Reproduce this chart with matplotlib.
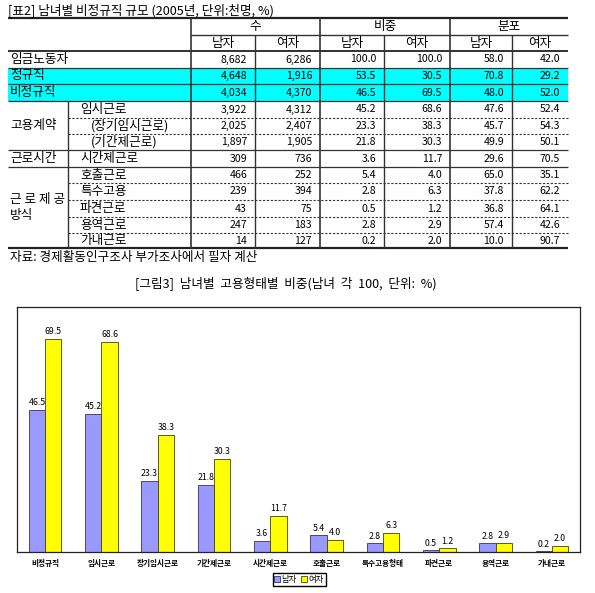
import numpy as np
import matplotlib
matplotlib.use("Agg")
import matplotlib.pyplot as plt

plt.rcParams['font.family'] = ['Noto Sans CJK KR', 'DejaVu Sans']

# ---- table data
row_labels = ['임금노동자', '정규직', '비정규직', '임시근로', '(장기임시근로)', '(기간제근로)',
              '시간제근로', '호출근로', '특수고용', '파견근로', '용역근로', '가내근로']
num_m = [8682, 4648, 4034, 3922, 2025, 1897, 309, 466, 239, 43, 247, 14]
num_f = [6286, 1916, 4370, 4312, 2407, 1905, 736, 252, 394, 75, 183, 127]
share_m = [100.0, 53.5, 46.5, 45.2, 23.3, 21.8, 3.6, 5.4, 2.8, 0.5, 2.8, 0.2]
share_f = [100.0, 30.5, 69.5, 68.6, 38.3, 30.3, 11.7, 4.0, 6.3, 1.2, 2.9, 2.0]
dist_m = [58.0, 70.8, 48.0, 47.6, 45.7, 49.9, 29.6, 65.0, 37.8, 36.8, 57.4, 10.0]
dist_f = [42.0, 29.2, 52.0, 52.4, 54.3, 50.1, 70.5, 35.1, 62.2, 64.1, 42.6, 90.7]
group_heads = ['수', '비중', '분포']
sex_heads = ['남자', '여자']

# ---- chart data
categories = ['비정규직', '임시근로', '장기임시근로', '기간제근로', '시간제근로',
              '호출근로', '특수고용형태', '파견근로', '용역근로', '가내근로']
men = [46.5, 45.2, 23.3, 21.8, 3.6, 5.4, 2.8, 0.5, 2.8, 0.2]
women = [69.5, 68.6, 38.3, 30.3, 11.7, 4.0, 6.3, 1.2, 2.9, 2.0]

W, H = 595, 593
fig = plt.figure(figsize=(W / 100, H / 100), dpi=100)

# table drawn on a full-figure axes in pixel units
tab = fig.add_axes([0, 0, 1, 1])
tab.set_xlim(0, W)
tab.set_ylim(H, 0)
tab.axis('off')

fs = 9.1  # korean text size
x0, x1 = 8, 568
col_edges = [191, 255, 320, 384, 450, 512, 568]
row_edges = [51, 68, 84, 101, 118, 134, 150, 167, 183, 200, 217, 233, 248]
lc = '#333333'

tab.text(8, 11, '[표2] 남녀별 비정규직 규모 (2005년, 단위:천명, %)', fontsize=fs,
         va='center', ha='left')

# cyan rows
for i in (1, 2):
    tab.fill_between([x0, x1], row_edges[i], row_edges[i + 1], color='#00FFFF', lw=0)

# horizontal lines
tab.hlines(18, x0, x1, color='#222222', lw=1.6)
tab.hlines(35, col_edges[0], x1, color=lc, lw=1)
tab.hlines(51, x0, x1, color='#222222', lw=1.3)
for i, y in enumerate(row_edges[1:], start=1):
    if i in (4, 5, 8, 9, 10, 11):
        tab.hlines(y, 68, x1, color=lc, lw=0.8, linestyles=(0, (2, 1.5)))
    elif i == len(row_edges) - 1:
        tab.hlines(y, x0, x1, color='#222222', lw=1.6)
    else:
        tab.hlines(y, x0, x1, color=lc, lw=0.9)

# vertical lines
tab.vlines(68, row_edges[3], row_edges[-1], color=lc, lw=1)
for j, x in enumerate(col_edges[:-1]):
    top = 18 if j % 2 == 0 else 35
    tab.vlines(x, top, row_edges[-1], color=lc, lw=1.2 if j in (0, 2, 4) else 1)

# headers
for k, g in enumerate(group_heads):
    xc = (col_edges[2 * k] + col_edges[2 * k + 2]) / 2
    tab.text(xc, 26.5, g, fontsize=fs, ha='center', va='center')
    for s in range(2):
        xs = (col_edges[2 * k + s] + col_edges[2 * k + s + 1]) / 2
        tab.text(xs, 43, sex_heads[s], fontsize=fs, ha='center', va='center')

# row labels
for i, lab in enumerate(row_labels):
    yc = (row_edges[i] + row_edges[i + 1]) / 2
    if i < 3:
        xl = 10
    elif lab.startswith('('):
        xl = 91
    else:
        xl = 80
    tab.text(xl, yc, lab, fontsize=fs, ha='left', va='center')

tab.text(10, (row_edges[3] + row_edges[6]) / 2, '고용계약', fontsize=fs, va='center')
tab.text(10, (row_edges[6] + row_edges[7]) / 2, '근로시간', fontsize=fs, va='center')
tab.text(10, 199, '근 로 제 공', fontsize=fs, va='center')
tab.text(10, 216, '방식', fontsize=fs, va='center')

# numbers
columns = [num_m, num_f, share_m, share_f, dist_m, dist_f]
for j, col in enumerate(columns):
    xr = col_edges[j + 1] - 8
    for i, v in enumerate(col):
        yc = (row_edges[i] + row_edges[i + 1]) / 2
        s = f'{v:,}' if j < 2 else f'{v:.1f}'
        tab.text(xr, yc, s, fontsize=7.6, ha='right', va='center')

tab.text(10, 257, '자료: 경제활동인구조사 부가조사에서 필자 계산', fontsize=fs, va='center')
tab.text(286, 284, '[그림3]  남녀별  고용형태별  비중(남녀  각  100,  단위:  %)', fontsize=fs,
         ha='center', va='center')

# ---- bar chart
ax = fig.add_axes([17 / W, 1 - 552 / H, (580 - 17) / W, (552 - 307) / H])
x = np.arange(len(categories))
bw = 0.29
r1 = ax.bar(x - bw / 2, men, bw, color='#9999FF', edgecolor='#333366', lw=0.6, label='남자')
r2 = ax.bar(x + bw / 2, women, bw, color='#FFFF00', edgecolor='#444400', lw=0.6, label='여자')
ax.bar_label(r1, fmt='%.1f', fontsize=6.3, padding=2)
ax.bar_label(r2, fmt='%.1f', fontsize=6.3, padding=2)
ax.set_xlim(-0.5, len(categories) - 0.5)
ax.set_ylim(0, 80)
ax.set_yticks([])
ax.set_xticks(x)
ax.set_xticklabels(categories, fontsize=5.5, fontweight='bold')
ax.tick_params(axis='x', length=0, pad=5)
for sp in ax.spines.values():
    sp.set_color('#222222')
    sp.set_linewidth(0.9)

fig.legend(loc='center', bbox_to_anchor=(299 / W, 1 - 579.5 / H), ncol=2, fontsize=6,
           handlelength=0.7, handleheight=0.7, handletextpad=0.2, columnspacing=0.5,
           borderpad=0.2, fancybox=False, edgecolor='black', framealpha=1)

fig.savefig('out.png', dpi=100)
